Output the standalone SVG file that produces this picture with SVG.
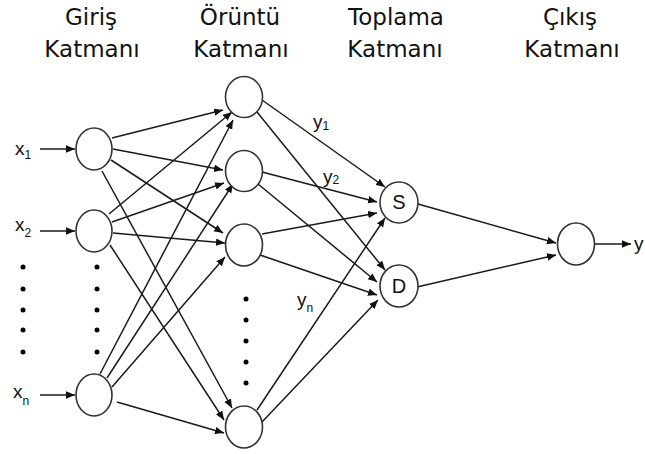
<svg xmlns="http://www.w3.org/2000/svg" width="645" height="454" viewBox="0 0 645 454">
<style>
.hdr{font-family:"DejaVu Sans",Verdana,sans-serif;font-size:23px;fill:#111;text-anchor:middle}
.lbl{font-family:"Liberation Sans",Arial,sans-serif;font-size:19px;fill:#111}
.sub{font-size:12px}
.node{fill:#fff;stroke:#333;stroke-width:1.6}
.edge{stroke:#1a1a1a;stroke-width:1.5;fill:none;marker-end:url(#arr)}
.dot{fill:#000}
</style>
<defs>
<marker id="arr" markerUnits="userSpaceOnUse" markerWidth="10" markerHeight="8" refX="9" refY="3.75" orient="auto">
<path d="M0,0 L9,3.75 L0,7.5 z" fill="#111"/>
</marker>
</defs>
<rect width="645" height="454" fill="#fff"/>
<g id="headers">
<text class="hdr" x="91" y="25">Giriş</text>
<text class="hdr" x="92" y="57">Katmanı</text>
<text class="hdr" x="240" y="25">Örüntü</text>
<text class="hdr" x="241" y="57">Katmanı</text>
<text class="hdr" x="396" y="25">Toplama</text>
<text class="hdr" x="395" y="57">Katmanı</text>
<text class="hdr" x="570" y="25">Çıkış</text>
<text class="hdr" x="572" y="57">Katmanı</text>
</g>
<g id="connectors">
<line class="edge" x1="40" y1="149" x2="75" y2="149"/>
<line class="edge" x1="40" y1="231" x2="75" y2="231"/>
<line class="edge" x1="40" y1="395" x2="75" y2="395"/>
<line class="edge" x1="112" y1="138" x2="223" y2="110"/>
<line class="edge" x1="113" y1="149" x2="223" y2="170"/>
<line class="edge" x1="111" y1="160" x2="223" y2="233"/>
<line class="edge" x1="102" y1="171" x2="232" y2="408"/>
<line class="edge" x1="109" y1="214" x2="232" y2="112"/>
<line class="edge" x1="112" y1="222" x2="224" y2="183"/>
<line class="edge" x1="113" y1="233" x2="225" y2="243"/>
<line class="edge" x1="110" y1="245" x2="224" y2="420"/>
<line class="edge" x1="100" y1="374" x2="233" y2="120"/>
<line class="edge" x1="107" y1="378" x2="233" y2="184"/>
<line class="edge" x1="112" y1="387" x2="225" y2="257"/>
<line class="edge" x1="117" y1="402" x2="224" y2="433"/>
<line class="edge" x1="262" y1="100" x2="385" y2="187"/>
<line class="edge" x1="257" y1="112" x2="385" y2="270"/>
<line class="edge" x1="262" y1="172" x2="377" y2="202"/>
<line class="edge" x1="258" y1="184" x2="377" y2="282"/>
<line class="edge" x1="262" y1="234" x2="377" y2="213"/>
<line class="edge" x1="260" y1="255" x2="377" y2="295"/>
<line class="edge" x1="257" y1="410" x2="385" y2="218"/>
<line class="edge" x1="262" y1="422" x2="378" y2="300"/>
<line class="edge" x1="418" y1="204" x2="556" y2="243"/>
<line class="edge" x1="417" y1="287" x2="556" y2="255"/>
<line class="edge" x1="595" y1="244" x2="631" y2="244"/>
</g>
<g id="input-labels">
<text class="lbl" x="15" y="155">x<tspan class="sub" dy="4">1</tspan></text>
<text class="lbl" x="15" y="231">x<tspan class="sub" dy="6">2</tspan></text>
<text class="lbl" x="13" y="398">x<tspan class="sub" dy="7">n</tspan></text>
</g>
<g id="edge-labels">
<text class="lbl" x="313" y="128">y<tspan class="sub" dy="2">1</tspan></text>
<text class="lbl" x="323" y="183">y<tspan class="sub" dy="1">2</tspan></text>
<text class="lbl" x="297" y="306">y<tspan class="sub" dy="6">n</tspan></text>
<text class="lbl" x="634" y="250">y</text>
</g>
<g id="input-1"><ellipse class="node" cx="94" cy="149" rx="18" ry="21"/></g>
<g id="input-2"><ellipse class="node" cx="94" cy="231" rx="18" ry="21"/></g>
<g id="input-n"><ellipse class="node" cx="94" cy="395" rx="18" ry="21"/></g>
<g id="pattern-1"><ellipse class="node" cx="244" cy="97" rx="18.5" ry="20.5"/></g>
<g id="pattern-2"><ellipse class="node" cx="244" cy="171" rx="18.5" ry="20.5"/></g>
<g id="pattern-3"><ellipse class="node" cx="244" cy="245" rx="18.5" ry="21"/></g>
<g id="pattern-n"><ellipse class="node" cx="244" cy="427" rx="18.5" ry="21"/></g>
<g id="sum-S"><ellipse class="node" cx="399" cy="202.5" rx="19" ry="20.5"/><text class="lbl" x="399" y="209" text-anchor="middle" style="font-size:20px">S</text></g>
<g id="sum-D"><ellipse class="node" cx="399" cy="286" rx="19" ry="21"/><text class="lbl" x="399" y="293" text-anchor="middle" style="font-size:20px">D</text></g>
<g id="output"><ellipse class="node" cx="576" cy="244" rx="18.5" ry="21"/></g>
<g id="dots">
<circle class="dot" cx="23" cy="267" r="2.5"/><circle class="dot" cx="23" cy="289" r="2.5"/><circle class="dot" cx="23" cy="310" r="2.5"/><circle class="dot" cx="23" cy="330" r="2.5"/><circle class="dot" cx="23" cy="352" r="2.5"/>
<circle class="dot" cx="97" cy="267" r="2.5"/><circle class="dot" cx="97" cy="289" r="2.5"/><circle class="dot" cx="97" cy="310" r="2.5"/><circle class="dot" cx="97" cy="330" r="2.5"/><circle class="dot" cx="97" cy="352" r="2.5"/>
<circle class="dot" cx="246" cy="299" r="2.5"/><circle class="dot" cx="246" cy="320" r="2.5"/><circle class="dot" cx="246" cy="341" r="2.5"/><circle class="dot" cx="246" cy="362" r="2.5"/><circle class="dot" cx="246" cy="383" r="2.5"/>
</g>
</svg>
